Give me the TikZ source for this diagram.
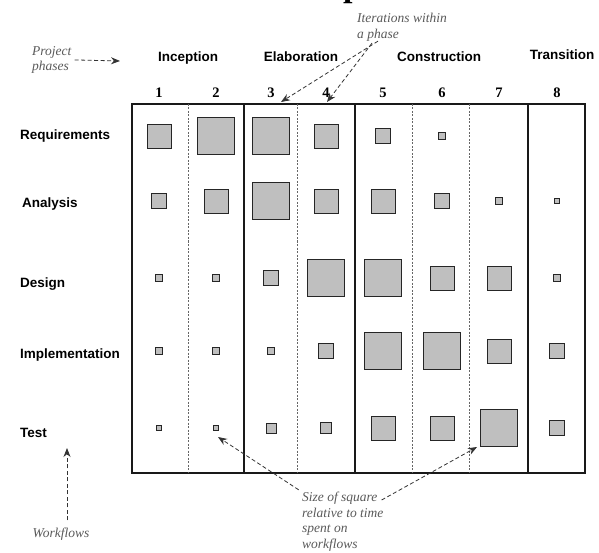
\documentclass[tikz,border=0pt]{standalone}
\usepackage{fontspec}
\setmainfont{Liberation Serif}
\setsansfont{Liberation Sans}
\usetikzlibrary{arrows.meta}

\begin{document}
\begin{tikzpicture}[
        x=1pt, y=-1pt,
        phase/.style={font=\sffamily\bfseries\fontsize{13.5}{16}\selectfont, anchor=base},
        flow/.style={font=\sffamily\bfseries\fontsize{13.5}{16}\selectfont, anchor=base west, inner sep=0pt},
        iter/.style={font=\bfseries\fontsize{14.5}{16}\selectfont, anchor=base},
        note/.style={font=\itshape\fontsize{13.5}{15.5}\selectfont, text=black!65, align=left, inner sep=0pt},
        pointer/.style={-{Stealth[length=9pt,width=7pt]}, dash pattern=on 4pt off 2.5pt, black!80, line width=0.8pt},
        sep/.style={black!60, dash pattern=on 2pt off 1.5pt, line width=0.8pt},
        cell/.style={draw=black!85, fill=black!25, line width=0.9pt, inner sep=0pt, minimum size=#1}
    ]
    \useasboundingbox (0,0) rectangle (599,553);

    % cut-off title above the picture
    \begin{scope}
        \clip (0,0) rectangle (599,553);
        \node[font=\bfseries\fontsize{34}{34}\selectfont, anchor=base west, inner sep=0pt] (title) at (343,-3) {p};
    \end{scope}

    % frame with iterations
    \draw [line width=1.2pt, black!90] (132,104) rectangle (585,473);
    \foreach \x in {244,355,528} {
        \draw [line width=1.2pt, black!90] (\x,104) -- (\x,473);
    }
    \foreach \x in {188,297,412,469} {
        \draw [sep] (\x,104) -- (\x,473);
    }

    % phases and iteration numbers
    \node[phase] (incep) at (188,62) {Inception};
    \node[phase] (elab) at (301,62) {Elaboration};
    \node[phase] (constr) at (439,62) {Construction};
    \node[phase] (trans) at (562,60) {Transition};

    \foreach \i/\x in {1/159,2/216,3/271,4/326,5/383,6/442,7/499,8/557} {
        \coordinate (col\i) at (\x,0);
        \node[iter] (num\i) at (\x,98) {\i};
    }

    % workflows
    \node[flow] (req) at (20,140) {Requirements};
    \node[flow] (ana) at (22,208) {Analysis};
    \node[flow] (des) at (20,287) {Design};
    \node[flow] (impl) at (20,358) {Implementation};
    \node[flow] (test) at (20,437) {Test};

    \foreach \j/\y in {1/136,2/201,3/278,4/351,5/428} {
        \coordinate (row\j) at (0,\y);
    }

    % squares: row/column/size
    \foreach \r/\c/\s in {1/1/24,1/2/37,1/3/37,1/4/24,1/5/15,1/6/7,
                          2/1/15,2/2/24,2/3/37,2/4/24,2/5/24,2/6/15,2/7/7,2/8/5,
                          3/1/7,3/2/7,3/3/15,3/4/37,3/5/37,3/6/24,3/7/24,3/8/7,
                          4/1/7,4/2/7,4/3/7,4/4/15,4/5/37,4/6/37,4/7/24,4/8/15,
                          5/1/5,5/2/5,5/3/10,5/4/11,5/5/24,5/6/24,5/7/37,5/8/15} {
        \node[cell=\s] (sq\r\c) at (col\c |- row\r) {};
    }

    % notes
    \node[note, anchor=north west] (projnote) at (32,46) {Project\\phases};
    \coordinate (phasetip) at (120,61);
    \draw [pointer, shorten <=3pt] (projnote.east) -- (phasetip);

    \node[note, anchor=north west] (iternote) at (357,13) {Iterations within\\a phase};
    \coordinate (iter3) at (281,102);
    \coordinate (iter4) at (327,102);
    \draw [pointer] ([xshift=21pt]iternote.south west) -- (iter3);
    \draw [pointer] ([xshift=15pt,yshift=-2pt]iternote.south west) -- (iter4);

    \node[note, anchor=north west] (sizenote) at (302,492) {Size of square\\relative to time\\spent on\\workflows};
    \coordinate (sizetipA) at (218,437);
    \coordinate (sizetipB) at (477,447);
    \draw [pointer, shorten <=4pt] (sizenote.north west) -- (sizetipA);
    \draw [pointer] ([xshift=-2pt,yshift=-8pt]sizenote.north east) -- (sizetipB);

    \node[note, anchor=base] (flownote) at (61,537) {Workflows};
    \coordinate (flowtip) at (67,448);
    \draw [pointer, shorten <=7pt] ([xshift=6pt]flownote.north) -- (flowtip);
\end{tikzpicture}
\end{document}
